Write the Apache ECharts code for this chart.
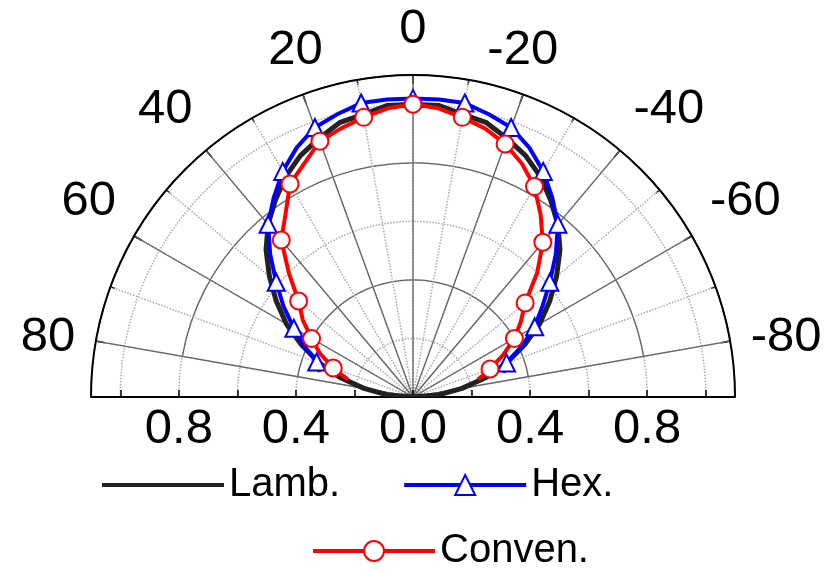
<!DOCTYPE html>
<html>
<head>
<meta charset="utf-8">
<script src="https://cdn.jsdelivr.net/npm/echarts@6/dist/echarts.min.js"></script>
<style>
  html, body { margin: 0; padding: 0; background: #fff; }
  #chart { width: 835px; height: 573px; }
</style>
</head>
<body>
<div id="chart"></div>
<script>
// emission angle (deg) and normalised intensity
var lambAngles = [-90, -85, -80, -75, -70, -65, -60, -55, -50, -45, -40, -35, -30, -25, -20, -15, -10, -5, 0,
                  5, 10, 15, 20, 25, 30, 35, 40, 45, 50, 55, 60, 65, 70, 75, 80, 85, 90];
var lambValues = [0, 0.09, 0.17, 0.26, 0.34, 0.42, 0.50, 0.57, 0.64, 0.71, 0.77, 0.82, 0.87, 0.91, 0.94, 0.97, 0.98, 1.00, 1.00,
                  1.00, 0.98, 0.97, 0.94, 0.91, 0.87, 0.82, 0.77, 0.71, 0.64, 0.57, 0.50, 0.42, 0.34, 0.26, 0.17, 0.09, 0];

var hexAngles = [-75, -70, -65, -60, -55, -50, -45, -40, -35, -30, -25, -20, -15, -10, -5, 0,
                 5, 10, 15, 20, 25, 30, 35, 40, 45, 50, 55, 60, 65, 70, 75];
var hexValues = [0.32, 0.34, 0.41, 0.48, 0.54, 0.61, 0.69, 0.77, 0.83, 0.89, 0.94, 0.98, 1.00, 1.02, 1.02, 1.02,
                 1.02, 1.02, 1.00, 0.98, 0.94, 0.89, 0.83, 0.77, 0.69, 0.61, 0.54, 0.47, 0.41, 0.35, 0.33];

var convAngles = [-75, -70, -65, -60, -55, -50, -45, -40, -35, -30, -25, -20, -15, -10, -5, 0,
                  5, 10, 15, 20, 25, 30, 35, 40, 45, 50, 55, 60, 65, 70, 75];
var convValues = [0.23, 0.28, 0.34, 0.40, 0.45, 0.50, 0.60, 0.69, 0.76, 0.83, 0.88, 0.92, 0.95, 0.97, 0.99, 1.00,
                  0.99, 0.97, 0.95, 0.93, 0.88, 0.84, 0.76, 0.70, 0.60, 0.51, 0.46, 0.40, 0.35, 0.29, 0.23];

var radiusTicks = [-1.0, -0.8, -0.6, -0.4, -0.2, 0, 0.2, 0.4, 0.6, 0.8, 1.0];
var radiusLabels = [-0.8, -0.4, 0, 0.4, 0.8];

var font = 'Liberation Sans, Arial, sans-serif';

// markers only every 10 degrees
function toData(values, angles, marked) {
  return values.map(function (r, i) {
    var a = angles[i];
    if (marked && a % 10 === 0) return [r, a];
    return { value: [r, a], symbol: 'none' };
  });
}

var chart = echarts.init(document.getElementById('chart'));

var option = {
  backgroundColor: '#fff',
  animation: false,
  polar: [
    { center: [413, 397], radius: 322 },
    { center: [413, 397], radius: 322 }
  ],
  angleAxis: [
    {
      polarIndex: 0, type: 'value', min: -90, max: 90, interval: 10,
      startAngle: 0, endAngle: 180, clockwise: false,
      axisLine: { lineStyle: { color: '#000', width: 2 } },
      axisTick: { inside: true, length: 5, lineStyle: { color: '#000', width: 1.5 } },
      axisLabel: { show: false },
      splitLine: { show: true, lineStyle: { color: '#aaa', type: 'dotted', width: 1.5 } }
    },
    {
      polarIndex: 1, type: 'value', min: -80, max: 80, interval: 20,
      startAngle: 10, endAngle: 170, clockwise: false,
      axisLine: { show: false },
      axisTick: { inside: true, length: 9, lineStyle: { color: '#000', width: 1.5 } },
      axisLabel: {
        margin: 21, fontSize: 49, color: '#000', fontFamily: font,
        formatter: function (v) {
          if (v === 20) return '{p|20}';
          if (v === -20) return '{m|-20}';
          return String(v);
        },
        rich: {
          p: { fontSize: 49, fontFamily: font, color: '#000', padding: [0, -27, 0, 0] },
          m: { fontSize: 49, fontFamily: font, color: '#000', padding: [0, 0, 0, -43] }
        }
      },
      splitLine: { show: true, lineStyle: { color: '#666', width: 1.3 } }
    }
  ],
  radiusAxis: [
    {
      polarIndex: 0, type: 'value', min: 0, max: 1.1, interval: 0.2,
      axisLine: { show: false }, axisTick: { show: false }, axisLabel: { show: false },
      splitLine: { show: true, lineStyle: { color: '#aaa', type: 'dotted', width: 1.5 } }
    },
    {
      polarIndex: 1, type: 'value', min: 0, max: 1.1, interval: 0.4,
      axisLine: { show: false }, axisTick: { show: false }, axisLabel: { show: false },
      splitLine: { show: true, lineStyle: { color: '#666', width: 1.3 } }
    }
  ],
  // flat axis under the half circle: radius read both ways from the centre
  grid: { left: 91, width: 644, top: 396, height: 1 },
  xAxis: {
    type: 'value', min: -1.1, max: 1.1,
    axisLine: { lineStyle: { color: '#000', width: 2 } },
    axisTick: { inside: true, length: 7, customValues: radiusTicks, lineStyle: { color: '#000', width: 1.5 } },
    axisLabel: {
      customValues: radiusLabels, margin: 8, fontSize: 49, color: '#000', fontFamily: font,
      formatter: function (v) { return Math.abs(v).toFixed(1); }
    },
    splitLine: { show: false }
  },
  yAxis: { type: 'value', show: false },
  legend: [
    {
      data: [{ name: 'Lamb.', icon: 'path://M0,0H120V4H0Z' }, 'Hex.'],
      left: 97, top: 460, itemWidth: 122, itemHeight: 25, itemGap: 62,
      lineStyle: { width: 4 },
      textStyle: { fontSize: 40, color: '#000', fontFamily: font }
    },
    {
      data: ['Conven.'],
      left: 306, top: 526, itemWidth: 122, itemHeight: 25,
      lineStyle: { width: 4 },
      textStyle: { fontSize: 40, color: '#000', fontFamily: font }
    }
  ],
  series: [
    {
      name: 'Lamb.', type: 'line', coordinateSystem: 'polar', polarIndex: 0,
      data: toData(lambValues, lambAngles, false),
      symbol: 'none',
      lineStyle: { color: '#222', width: 5 },
      itemStyle: { color: '#222' }
    },
    {
      name: 'Hex.', type: 'line', coordinateSystem: 'polar', polarIndex: 0,
      data: toData(hexValues, hexAngles, true),
      symbol: 'emptyTriangle', symbolSize: 17,
      lineStyle: { color: '#0000ff', width: 4 },
      itemStyle: { color: '#0000ff', borderWidth: 2 }
    },
    {
      name: 'Conven.', type: 'line', coordinateSystem: 'polar', polarIndex: 0,
      data: toData(convValues, convAngles, true),
      symbol: 'emptyCircle', symbolSize: 17,
      lineStyle: { color: '#ff0000', width: 4 },
      itemStyle: { color: '#ff0000', borderWidth: 2 }
    }
  ]
};

chart.setOption(option);
</script>
</body>
</html>
